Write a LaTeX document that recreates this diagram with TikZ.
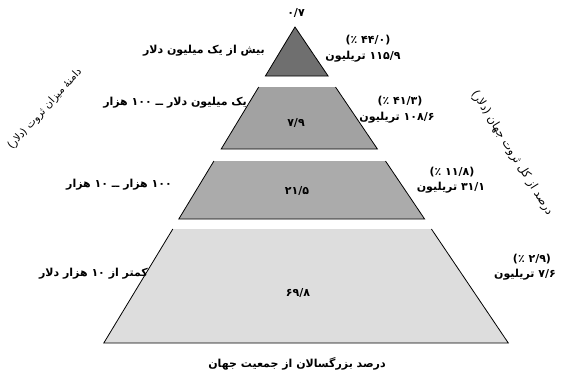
\documentclass[tikz,border=0pt]{standalone}
\usepackage{fontspec}
\TeXXeTstate=1
\newfontfamily\fa[Script=Arabic]{DejaVu Sans}
\definecolor{bandA}{HTML}{6F6F6F}
\definecolor{bandB}{HTML}{A2A2A2}
\definecolor{bandC}{HTML}{ABABAB}
\definecolor{bandD}{HTML}{DDDDDD}
\begin{document}
\begin{tikzpicture}[x=1pt,y=-1pt,
  lab/.style={font=\fa\bfseries\fontsize{11}{13}\selectfont, inner sep=0pt},
  axislab/.style={font=\fa\fontsize{10.5}{12}\selectfont, inner sep=0pt},
  edgeline/.style={line width=0.8pt, line join=miter}]
\useasboundingbox (0,0) rectangle (562,373);
% bands
\fill[bandA] (295,27) -- (265.4,76) -- (328.1,76) -- cycle;
\draw[edgeline] (295,27) -- (265.4,76) -- (328.1,76) -- cycle;
\fill[bandB] (258.7,87) -- (221.2,149) -- (377.4,149) -- (335.5,87) -- cycle;
\draw[edgeline] (258.7,87) -- (221.2,149) -- (377.4,149) -- (335.5,87);
\fill[bandC] (213.9,161) -- (178.8,219) -- (424.6,219) -- (385.5,161) -- cycle;
\draw[edgeline] (213.9,161) -- (178.8,219) -- (424.6,219) -- (385.5,161);
\fill[bandD] (172.8,229) -- (103.8,343) -- (508.3,343) -- (431.4,229) -- cycle;
\draw[edgeline] (172.8,229) -- (103.8,343) -- (508.3,343) -- (431.4,229);
% top value
\node[lab] (topval) at (296,13) {۰/۷};
% band 1
\node[lab, anchor=east] (l1) at (265,51) {\beginR بیش از یک میلیون دلار\endR};
\node[lab] (p1) at (368,40) {\beginR(۴۴/۰ ٪)\endR};
\node[lab] (v1) at (363,57) {\beginR ۱۱۵/۹ تریلیون\endR};
% band 2
\node[lab, anchor=east] (l2) at (247,103) {\beginR یک میلیون دلار ــ ۱۰۰ هزار\endR};
\node[lab] (c2) at (296,123) {۷/۹};
\node[lab] (p2) at (400,101) {\beginR(۴۱/۳ ٪)\endR};
\node[lab] (v2) at (397,118) {\beginR ۱۰۸/۶ تریلیون\endR};
% band 3
\node[lab, anchor=east] (l3) at (172,185) {\beginR ۱۰۰ هزار ــ ۱۰ هزار\endR};
\node[lab] (c3) at (297,191) {۲۱/۵};
\node[lab] (p3) at (452,172) {\beginR(۱۱/۸ ٪)\endR};
\node[lab] (v3) at (451,188) {\beginR ۳۱/۱ تریلیون\endR};
% band 4
\node[lab, anchor=east] (l4) at (148,274) {\beginR کمتر از ۱۰ هزار دلار\endR};
\node[lab] (c4) at (298,293) {۶۹/۸};
\node[lab] (p4) at (532,259) {\beginR(۲/۹ ٪)\endR};
\node[lab] (v4) at (525,275) {\beginR ۷/۶ تریلیون\endR};
% axis labels
\node[lab] (bottom) at (297,364) {\beginR درصد بزرگسالان از جمعیت جهان\endR};
\node[axislab, rotate=48] (leftaxis) at (45,109) {\beginR دامنهٔ میزان ثروت (دلار)\endR};
\node[axislab, font=\fa\fontsize{11.5}{13}\selectfont, rotate=-58] (rightaxis) at (512,153) {\beginR درصد از کل ثروت جهان (دلار)\endR};
\end{tikzpicture}
\end{document}
